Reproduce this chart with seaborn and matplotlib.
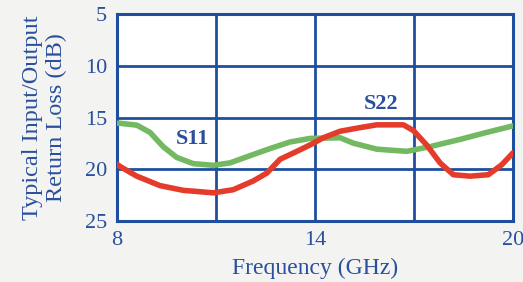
import matplotlib
matplotlib.use("Agg")
import matplotlib.pyplot as plt
import seaborn as sns
import pandas as pd

# S11 (green) data
s11_freq = [8.0, 8.09, 8.60, 9.0, 9.40, 9.81, 10.31, 10.92, 11.42, 12.03, 12.64, 13.24, 13.85,
            14.76, 15.16, 15.87, 16.78, 17.48, 18.39, 19.20, 20.0]
s11_loss = [15.55, 15.55, 15.73, 16.43, 17.81, 18.85, 19.45, 19.61, 19.38, 18.68, 17.99, 17.36, 17.01,
            16.95, 17.47, 18.05, 18.26, 17.81, 17.11, 16.43, 15.8]

# S22 (red) data
s22_freq = [8.0, 8.09, 8.60, 9.30, 10.01, 10.92, 11.52, 12.13, 12.54, 12.94, 13.45, 13.85, 14.25,
            14.76, 15.36, 15.87, 16.68, 16.98, 17.38, 17.79, 18.19, 18.70, 19.25, 19.66, 20.0]
s22_loss = [19.5, 19.72, 20.66, 21.57, 22.03, 22.27, 21.97, 21.12, 20.36, 19.03, 18.26, 17.64, 16.95,
            16.32, 15.97, 15.70, 15.70, 16.25, 17.64, 19.38, 20.52, 20.66, 20.52, 19.55, 18.4]

x_ticks = [8, 14, 20]
y_ticks = [5, 10, 15, 20, 25]

blue = "#1e4f9f"
text_blue = "#2a4f9c"

sns.set_theme(style="white")
plt.rcParams['font.family'] = ['Liberation Serif', 'DejaVu Serif']

fig = plt.figure(figsize=(5.23, 2.82), dpi=100)
fig.patch.set_facecolor("#f3f4f1")
ax = fig.add_axes([0.2237, 0.216, 0.981 - 0.2237, 0.950 - 0.216])
ax.set_facecolor("white")

df11 = pd.DataFrame({"freq": s11_freq, "loss": s11_loss})
df22 = pd.DataFrame({"freq": s22_freq, "loss": s22_loss})
sns.lineplot(data=df11, x="freq", y="loss", ax=ax, color="#72b962", linewidth=4.0, zorder=3)
sns.lineplot(data=df22, x="freq", y="loss", ax=ax, color="#e53b2b", linewidth=4.0, zorder=4)
for ln in ax.lines:
    ln.set_solid_joinstyle("round")
    ln.set_solid_capstyle("round")

ax.set_xlim(8, 20)
ax.set_ylim(25, 5)
ax.set_xticks([8, 11, 14, 17, 20])
ax.set_xticklabels([str(t) if t in x_ticks else "" for t in [8, 11, 14, 17, 20]])
ax.set_yticks(y_ticks)
ax.set_yticklabels([str(t) for t in y_ticks])
ax.grid(True, color=blue, linewidth=2.0, zorder=1)
ax.set_axisbelow(True)
for s in ax.spines.values():
    s.set_color(blue)
    s.set_linewidth(2.2)
    s.set_visible(True)
ax.tick_params(axis="both", length=0, labelsize=16, labelcolor=text_blue)
ax.tick_params(axis="y", pad=7)
ax.tick_params(axis="x", pad=7)

ax.set_xlabel("Frequency (GHz)", fontsize=17, color=text_blue, labelpad=6)
ax.set_ylabel("Typical Input/Output\nReturn Loss (dB)", fontsize=17.5, color=text_blue,
              labelpad=13, linespacing=1.15)

ax.text(10.3, 17.1, "S11", color=text_blue, fontsize=16, fontweight="bold", ha="center", va="center", zorder=5)
ax.text(16.0, 13.7, "S22", color=text_blue, fontsize=16, fontweight="bold", ha="center", va="center", zorder=5)

fig.savefig("out.png", dpi=100, facecolor=fig.get_facecolor())
